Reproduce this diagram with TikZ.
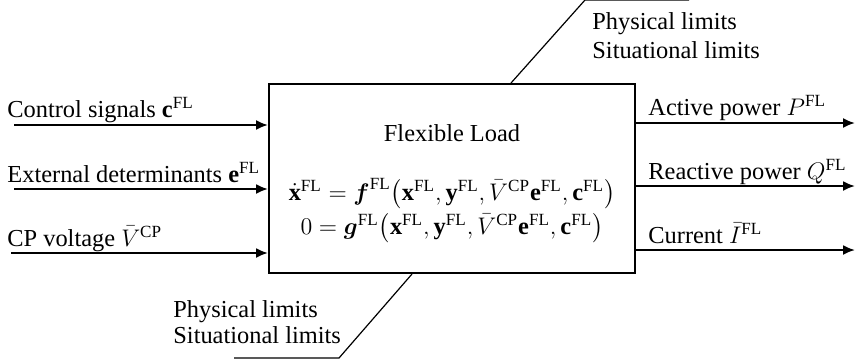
\documentclass[tikz,border=0pt]{standalone}
\usepackage{amsmath,amssymb}
\usepackage{fontspec}
\setmainfont{Liberation Serif}
\usepackage{tikz}
\usetikzlibrary{arrows.meta, positioning}
\tikzset{
    loadbox/.style={rectangle, draw, line width=1pt, minimum width=183pt, minimum height=94.5pt},
    sigtext/.style={anchor=base west, inner sep=0pt},
    eqtext/.style={anchor=base, inner sep=0pt},
    arrow/.style={line width=1pt, -{Latex[length=6pt,width=5pt]}},
    leader/.style={line width=0.6pt}
}
\newcommand{\fl}{^{\mathrm{FL}}}
\newcommand{\cp}{^{\mathrm{CP}}}

\begin{document}
\begin{tikzpicture}[x=0.5pt, y=-0.5pt, font=\fontsize{12.2}{14}\selectfont]
    \useasboundingbox (0,0) rectangle (865,361);
    % Place nodes
    \node [loadbox] (load) at (452,178.5) {};
    \node [eqtext] (title) at (452,141) {Flexible Load};
    \node [eqtext] (eqf) at (452,200) {$\dot{\mathbf{x}}\fl = \boldsymbol{f}\fl\bigl(\mathbf{x}\fl, \mathbf{y}\fl, \bar{V}\cp\mathbf{e}\fl, \mathbf{c}\fl\bigr)$};
    \node [eqtext] (eqg) at (452,234) {$0 = \boldsymbol{g}\fl\bigl(\mathbf{x}\fl, \mathbf{y}\fl, \bar{V}\cp\mathbf{e}\fl, \mathbf{c}\fl\bigr)$};

    % Inputs
    \coordinate (in1) at (14,125);
    \coordinate (in2) at (14,189);
    \coordinate (in3) at (11,253);
    \node [sigtext] (ctrl) at (7,117) {Control signals $\mathbf{c}\fl$};
    \node [sigtext] (ext) at (7,182) {External determinants $\mathbf{e}\fl$};
    \node [sigtext] (volt) at (7,246) {CP voltage $\bar{V}\cp$};

    % Outputs
    \coordinate (out1) at (855,123);
    \coordinate (out2) at (855,186);
    \coordinate (out3) at (855,250);
    \node [sigtext] (pact) at (648,115) {Active power $P\fl$};
    \node [sigtext] (qreact) at (648,179) {Reactive power $Q\fl$};
    \node [sigtext] (curr) at (648,243) {Current $\bar{I}\fl$};

    % Limits
    \node [sigtext] (topphys) at (592,29) {Physical limits};
    \node [sigtext] (topsit) at (592,58) {Situational limits};
    \node [sigtext] (botphys) at (173,317) {Physical limits};
    \node [sigtext] (botsit) at (173,343) {Situational limits};

    % Draw edges
    \draw [arrow] (in1) -- (in1 -| load.west);
    \draw [arrow] (in2) -- (in2 -| load.west);
    \draw [arrow] (in3) -- (in3 -| load.west);
    \draw [arrow] (out1 -| load.east) -- (out1);
    \draw [arrow] (out2 -| load.east) -- (out2);
    \draw [arrow] (out3 -| load.east) -- (out3);
    \draw [leader] (load.north west) ++(243,0) -- ++(74,-83) -- ++(104,0);
    \draw [leader] (load.south west) ++(144,0) -- ++(-73,84) -- ++(-105,0);
\end{tikzpicture}
\end{document}
